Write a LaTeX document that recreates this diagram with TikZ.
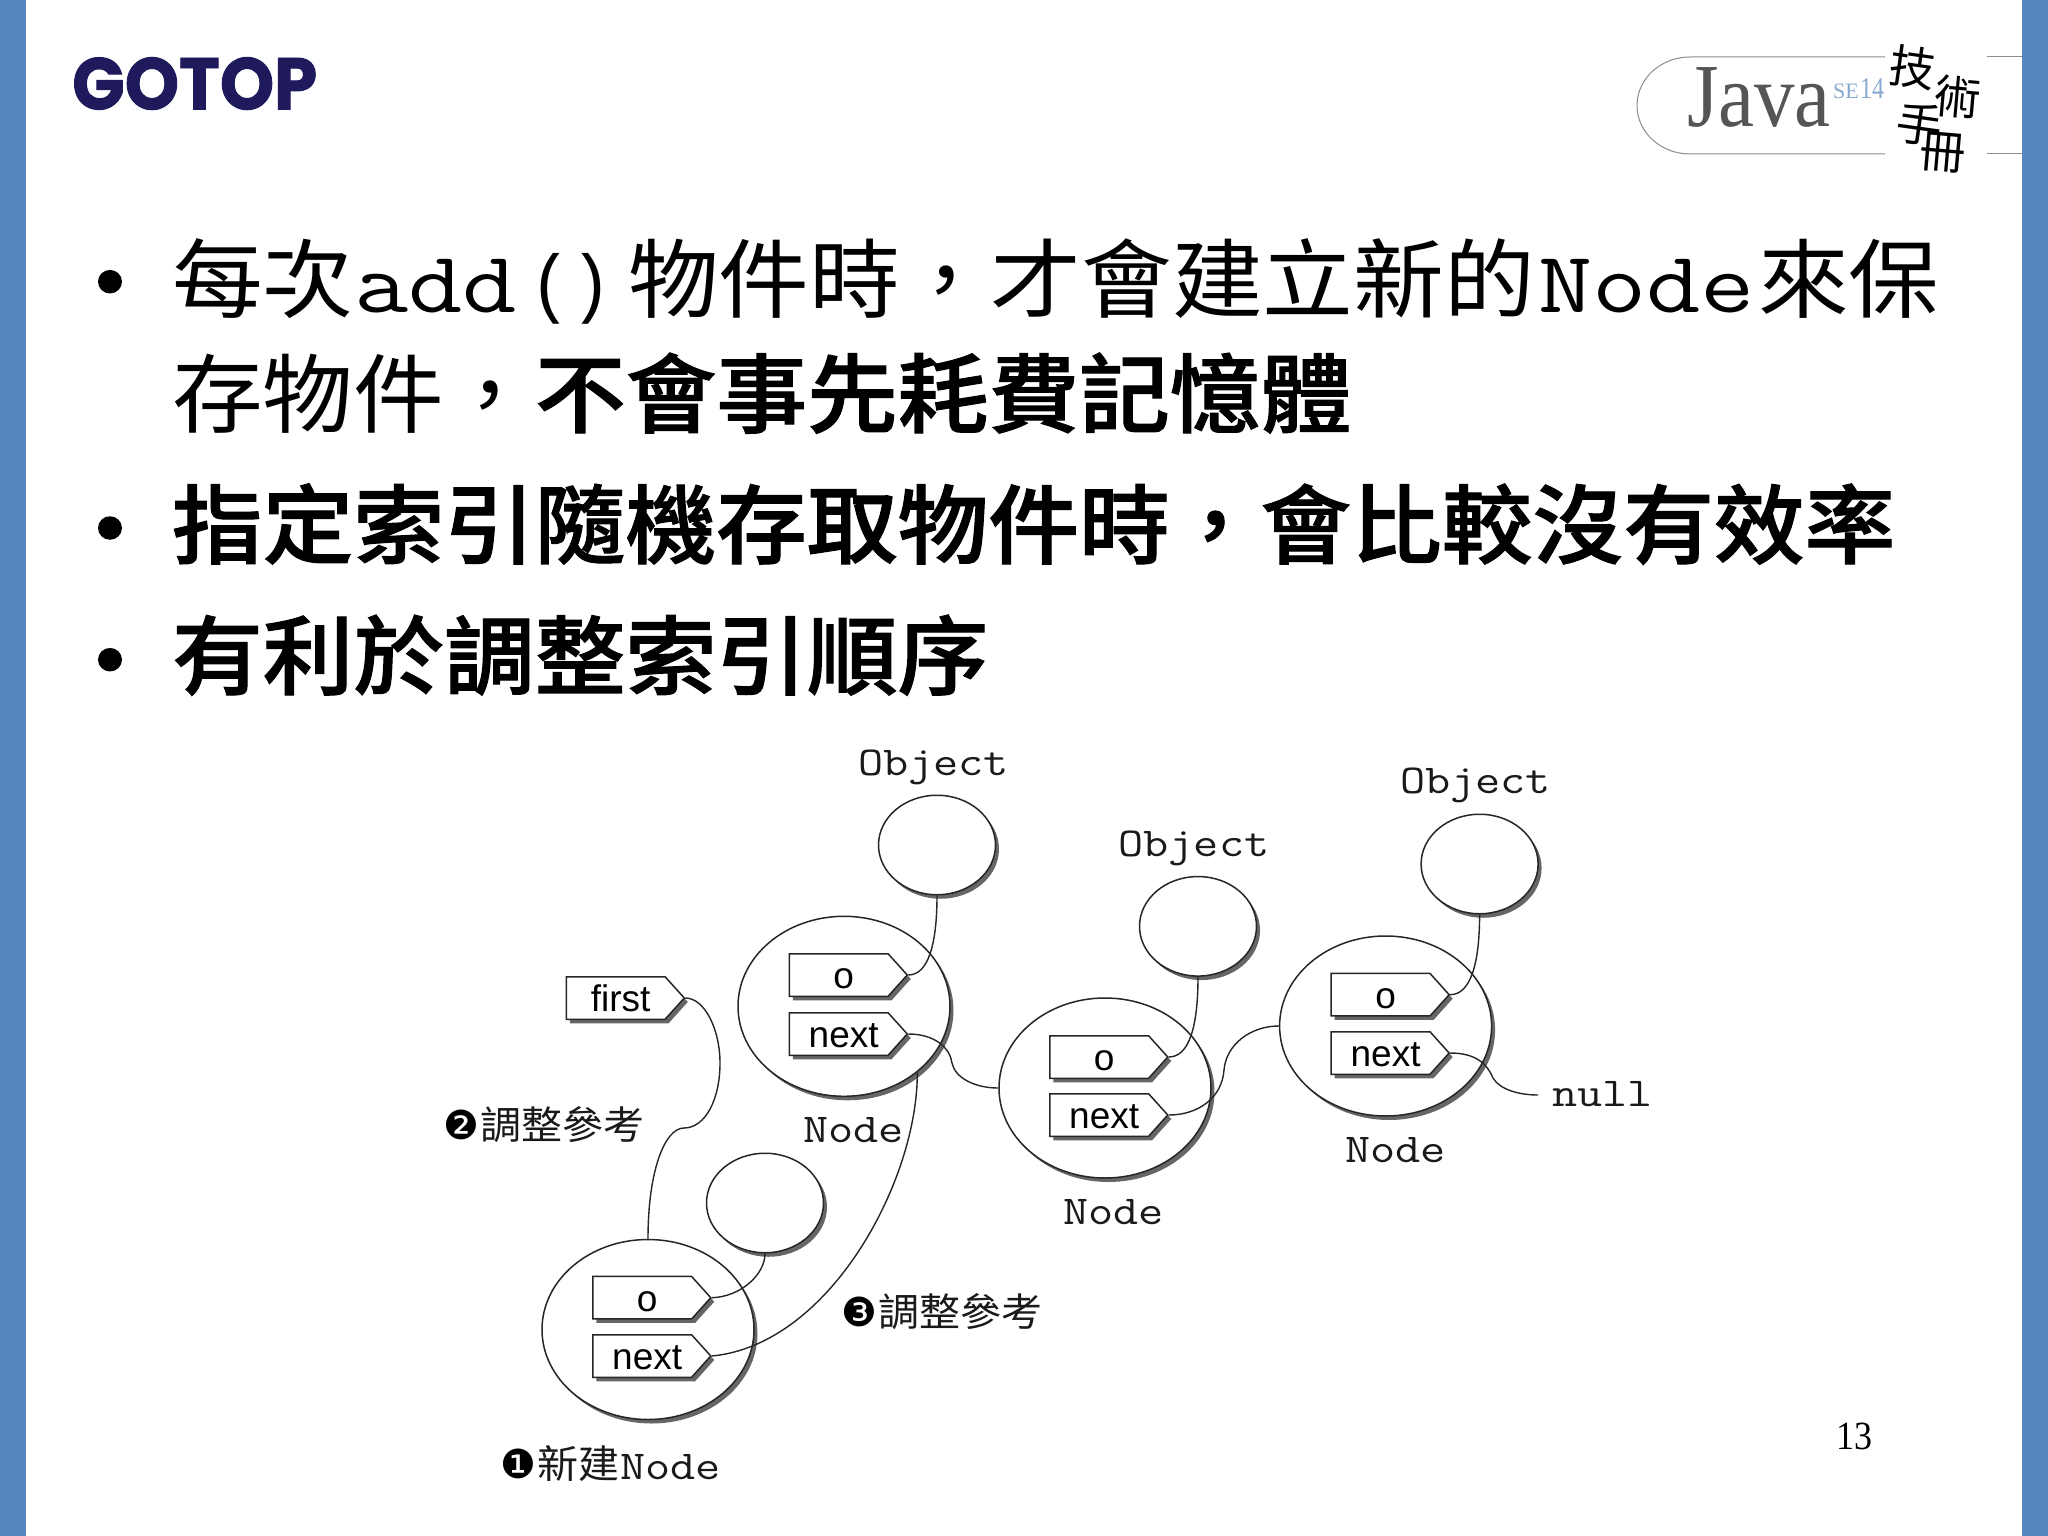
\documentclass[tikz,border=0pt]{standalone}
\usepackage{fontspec}
\usepackage{graphicx}
\usetikzlibrary{shapes.geometric,shapes.symbols,shadows}
\setmainfont{Liberation Sans}
\newfontfamily\fcjk{Noto Sans CJK TC}
\newfontfamily\fcjkm{Noto Sans CJK TC Medium}
\newfontfamily\fmono{Liberation Mono}
\newfontfamily\fserif{Liberation Serif}
\newfontfamily\fding{DejaVu Sans}
\newfontfamily\flogo[BoldFeatures={FakeBold=1.3}]{Poppins}
\definecolor{barblue}{HTML}{5488BC}
\definecolor{logoink}{HTML}{1E1A5C}
\definecolor{javagray}{HTML}{555555}
\definecolor{selight}{HTML}{86A9CE}
\definecolor{monoink}{HTML}{1A1A1A}
\newcommand{\fwc}{\char"FF0C\relax}
\newcommand{\headline}[1]{\fcjk\fontsize{90.7}{90.7}\selectfont\scalebox{1}[.95]{#1}}
\newcommand{\boldline}[1]{\fcjkm\fontsize{90.7}{90.7}\selectfont\addfontfeature{FakeBold=1.2}\scalebox{1}[.95]{#1}}
\newcommand{\bigmono}[1]{\ttfamily\fontsize{87}{87}\selectfont\scalebox{1.21}[1]{#1}}
\newcommand{\parens}[1]{\fmono\fontsize{76}{76}\selectfont\scalebox{.92}[1]{#1}}
\newcommand{\smallmono}[1]{\ttfamily\fontsize{41}{41}\selectfont\scalebox{1.19}[1]{#1}}
\newcommand{\smallcjk}[1]{\fcjk\fontsize{41}{41}\selectfont\scalebox{1}[.95]{#1}}
\newcommand{\dingtxt}[1]{\fding\fontsize{40}{40}\selectfont #1}
\newcommand{\handchar}[1]{\fcjk\fontsize{46}{46}\selectfont #1}
\tikzset{
  lbl/.style={inner sep=0pt,outer sep=0pt,anchor=base west},
  monolbl/.style={lbl,text=monoink},
  bar/.style={fill=barblue,draw=none},
  bulletdot/.style={ellipse,fill=black,draw=none,inner sep=0pt,minimum width=24pt,minimum height=23.5pt},
  oval/.style={ellipse,draw=black!85,line width=1.5pt,fill=white,inner sep=0pt,
    general shadow={shadow xshift=3.5pt,shadow yshift=-4pt,fill=black!60}},
  nodeoval/.style={oval,minimum width=212pt,minimum height=180pt},
  objoval/.style={oval,minimum width=117pt,minimum height=99.5pt},
  tag/.style={shape=signal,signal to=east,signal from=nowhere,signal pointer angle=96,
    draw=black!85,line width=1.5pt,fill=white,inner sep=0pt,anchor=west,
    minimum width=118pt,minimum height=42.5pt,text height=27pt,text depth=0pt,
    font=\fontsize{37}{37}\selectfont,
    general shadow={shadow xshift=3.5pt,shadow yshift=-4pt,fill=black!60}},
  wire/.style={draw=black!85,line width=1.4pt},
  rule/.style={draw=black!45,line width=1pt}
}
\newcommand{\tagtxt}[1]{\hspace*{10pt}#1}
\begin{document}
\begin{tikzpicture}[x=1pt,y=-1pt]
\useasboundingbox (0,0) rectangle (2048,1536);
\fill[white] (0,0) rectangle (2048,1536);
\fill[bar] (0,0) rectangle (25.5,1536);
\fill[bar] (2022,0) rectangle (2048,1536);

% GOTOP logo
\node[inner sep=0pt,anchor=south west,text=logoink] (gotop) at (72,110)
  {\resizebox{245pt}{52pt}{\flogo\bfseries GOTOP}};

% Java logo
\draw[rule] (1885,57) -- (1690,57) arc[start angle=270,end angle=90,x radius=53,y radius=48.5] -- (1885,154);
\draw[rule] (1987,57) -- (2022,57);
\draw[rule] (1987,154) -- (2022,154);
\node[lbl,text=javagray] (java) at (1687,127) {\fserif\fontsize{90}{90}\selectfont\scalebox{.9}[1]{Java}};
\node[lbl,text=selight] (se) at (1833,99) {\fserif\fontsize{22}{22}\selectfont SE};
\node[lbl,text=selight] (ver) at (1860,99) {\fserif\fontsize{30}{30}\selectfont\scalebox{.8}[1]{14}};
\node[inner sep=0pt,rotate=-8] (hand1) at (1913,67) {\handchar{技}};
\node[inner sep=0pt,rotate=-5] (hand2) at (1958,97) {\handchar{術}};
\node[inner sep=0pt,rotate=-8] (hand3) at (1920,124) {\handchar{手}};
\node[inner sep=0pt,rotate=-5] (hand4) at (1943,153) {\handchar{冊}};

% Headlines
\node[bulletdot] (b1) at (110,281.7) {};
\node[bulletdot] (b2) at (110,528) {};
\node[bulletdot] (b3) at (110,659.7) {};
\node[lbl] (l1a) at (172,311) {\headline{每次}};
\node[lbl] (l1b) at (354,312.5) {\bigmono{add}};
\node[lbl] (l1c) at (529,308) {\parens{()}};
\node[lbl] (l1d) at (628,311) {\headline{物件時\fwc 才會建立新的}};
\node[lbl] (l1e) at (1538,312.5) {\bigmono{Node}};
\node[lbl] (l1f) at (1758,311) {\headline{來保}};
\node[lbl] (l2a) at (172,426) {\headline{存物件\fwc}};
\node[lbl] (l2b) at (535,426) {\boldline{不會事先耗費記憶體}};
\node[lbl] (l3) at (172,557) {\boldline{指定索引隨機存取物件時\fwc 會比較沒有效率}};
\node[lbl] (l4) at (172,688) {\boldline{有利於調整索引順序}};

% Ovals
\node[objoval] (obj1) at (937,845) {};
\node[objoval] (obj2) at (1198,926.3) {};
\node[objoval] (obj3) at (1479.6,864) {};
\node[objoval] (obj4) at (765,1203) {};
\node[nodeoval] (n1) at (844,1006.3) {};
\node[nodeoval] (n2) at (1105,1088) {};
\node[nodeoval] (n3) at (1385.6,1026) {};
\node[nodeoval] (n4) at (648,1329.5) {};

% Tags
\node[tag] (first) at (565.5,998) {\tagtxt{first}};
\node[tag] (o1) at (788.5,975) {\tagtxt{o}};
\node[tag] (next1) at (788.5,1034) {\tagtxt{next}};
\node[tag] (o2) at (1049,1057) {\tagtxt{o}};
\node[tag] (next2) at (1049,1115) {\tagtxt{next}};
\node[tag] (o3) at (1330.4,994.7) {\tagtxt{o}};
\node[tag] (next3) at (1330.4,1053) {\tagtxt{next}};
\node[tag] (o4) at (592,1297.7) {\tagtxt{o}};
\node[tag] (next4) at (592,1356) {\tagtxt{next}};

% Labels
\node[monolbl] (objl1) at (858,775) {\smallmono{Object}};
\node[monolbl] (objl2) at (1118.6,856.7) {\smallmono{Object}};
\node[monolbl] (objl3) at (1400,793) {\smallmono{Object}};
\node[monolbl] (nodel1) at (803,1142) {\smallmono{Node}};
\node[monolbl] (nodel2) at (1063,1224.3) {\smallmono{Node}};
\node[monolbl] (nodel3) at (1345,1162.7) {\smallmono{Node}};
\node[monolbl] (nulll) at (1552,1106.7) {\smallmono{null}};
\node[lbl] (s2d) at (443,1139) {\dingtxt{❷}};
\node[lbl,text=monoink] (s2t) at (480,1139) {\smallcjk{調整參考}};
\node[lbl] (s3d) at (841,1326) {\dingtxt{❸}};
\node[lbl,text=monoink] (s3t) at (878,1326) {\smallcjk{調整參考}};
\node[lbl] (s1d) at (500,1478) {\dingtxt{❶}};
\node[lbl,text=monoink] (s1t) at (537,1478) {\smallcjk{新建}};
\node[monolbl] (s1n) at (620,1479) {\smallmono{Node}};
\node[lbl] (page) at (1836,1449) {\fserif\fontsize{40}{40}\selectfont\scalebox{.9}[1]{13}};

% Connectors
\coordinate (nullend) at (1538,1095);
\draw[wire] (obj1.south) .. controls (937,945) and (928,975) .. (o1.east);
\draw[wire] (obj2.south) .. controls (1198,1027) and (1189,1057) .. (o2.east);
\draw[wire] (obj3.south) .. controls (1479.6,965) and (1470,994.7) .. (o3.east);
\draw[wire] (obj4.south) .. controls (765,1275) and (740,1297) .. (o4.east);
\draw[wire] (next1.east) .. controls (935,1034) and (950,1048) .. (952,1063)
  .. controls (955,1078) and (975,1088) .. (n2.west);
\draw[wire] (next2.east) .. controls (1198,1115) and (1222,1098) .. (1224,1070)
  .. controls (1226,1045) and (1250,1026) .. (n3.west);
\draw[wire] (next3.east) .. controls (1478,1053) and (1488,1066) .. (1493,1078)
  .. controls (1500,1090) and (1520,1095) .. (nullend);
\draw[wire] (first.east) .. controls (705,998) and (720,1030) .. (720,1063)
  .. controls (720,1100) and (705,1128) .. (684,1128)
  .. controls (665,1128) and (648,1170) .. (n4.north);
\draw[wire] (n1.-42) .. controls (918,1180) and (830,1345) .. (next4.east);
\end{tikzpicture}
\end{document}
